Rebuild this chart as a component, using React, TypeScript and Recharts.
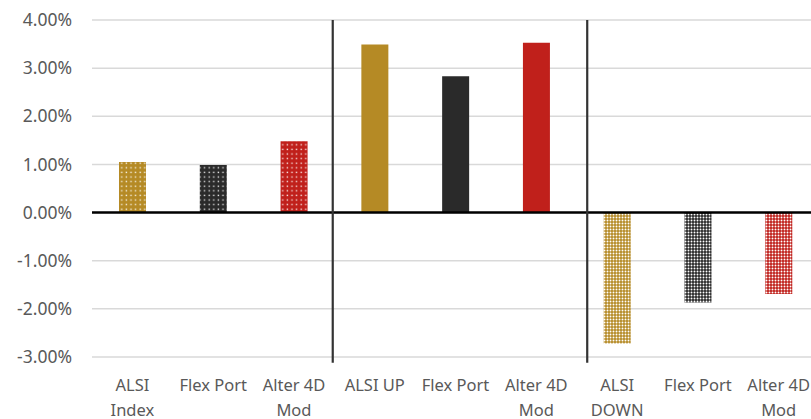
import React from "react";
import { BarChart, Bar, XAxis, YAxis, CartesianGrid, ReferenceLine, Cell } from "recharts";

const labelLine1 = ["ALSI", "Flex Port", "Alter 4D", "ALSI UP", "Flex Port", "Alter 4D", "ALSI", "Flex Port", "Alter 4D"];
const labelLine2 = ["Index", "", "Mod", "", "", "Mod", "DOWN", "", "Mod"];
const returns = [1.05, 0.99, 1.48, 3.49, 2.83, 3.53, -2.72, -1.87, -1.69];
const yTicks = [-3, -2, -1, 0, 1, 2, 3, 4];
const separators = [2.48, 5.63];

const data = returns.map((v, i) => ({ idx: i, value: v }));

const colors = ["#B58A25", "#2A2A2A", "#C0201B"];
const colorNames = ["gold", "black", "red"];

const fillFor = (i: number) => {
  const group = Math.floor(i / 3);
  const c = colorNames[i % 3];
  if (group === 0) return `url(#dot-${c})`;
  if (group === 2) return `url(#chk-${c})`;
  return colors[i % 3];
};

const XTick = (props: any) => {
  const { x, y, payload } = props;
  const i = payload.value;
  return (
    <g>
      <text x={x} y={y + 34} textAnchor="middle" fill="#595959" fontSize={16.5}>
        {labelLine1[i]}
      </text>
      <text x={x} y={y + 59} textAnchor="middle" fill="#595959" fontSize={16.5}>
        {labelLine2[i]}
      </text>
    </g>
  );
};

export default function App() {
  return (
    <div style={{ position: "absolute", left: 0, top: 0, width: 811, height: 419, overflow: "hidden" }}>
      <BarChart
        width={811}
        height={419}
        data={data}
        margin={{ top: 20, right: 0, bottom: 0, left: 0 }}
        style={{ fontFamily: "Noto Sans" }}
      >
        <defs>
          {colors.map((c, k) => (
            <pattern key={"d" + k} id={`dot-${colorNames[k]}`} width={4.6} height={4.6} patternUnits="userSpaceOnUse">
              <rect width={4.6} height={4.6} fill={c} />
              <rect x={1.5} y={1.5} width={1.4} height={1.4} fill="#ffffff" opacity={0.85} />
            </pattern>
          ))}
          {colors.map((c, k) => (
            <pattern key={"c" + k} id={`chk-${colorNames[k]}`} width={3} height={3} patternUnits="userSpaceOnUse">
              <rect width={3} height={3} fill={c} />
              <circle cx={1.5} cy={1.5} r={0.95} fill="#ffffff" />
            </pattern>
          ))}
        </defs>
        <CartesianGrid horizontal={true} vertical={false} stroke="#d9d9d9" strokeWidth={1.5} />
        <XAxis
          dataKey="idx"
          type="number"
          domain={[-0.5, 8.4]}
          ticks={[0, 1, 2, 3, 4, 5, 6, 7, 8]}
          allowDataOverflow
          axisLine={false}
          tickLine={false}
          tickSize={0}
          tickMargin={0}
          height={62}
          interval={0}
          tick={<XTick />}
        />
        <YAxis
          width={92}
          domain={[-3, 4]}
          ticks={yTicks}
          axisLine={false}
          tickLine={false}
          tickMargin={14}
          tickFormatter={(v: number) => v.toFixed(2) + "%"}
          tick={{ fill: "#595959", fontSize: 17.5 }}
        />
        <Bar dataKey="value" barSize={27} isAnimationActive={false}>
          {data.map((d, i) => (
            <Cell key={i} fill={fillFor(i)} />
          ))}
        </Bar>
        <ReferenceLine y={0} stroke="#000000" strokeWidth={2.5} />
        {separators.map((s) => (
          <ReferenceLine
            key={s}
            segment={[{ x: s, y: -3.12 }, { x: s, y: 4 }]}
            stroke="#333333"
            strokeWidth={2.2}
            ifOverflow="visible"
          />
        ))}
      </BarChart>
    </div>
  );
}
